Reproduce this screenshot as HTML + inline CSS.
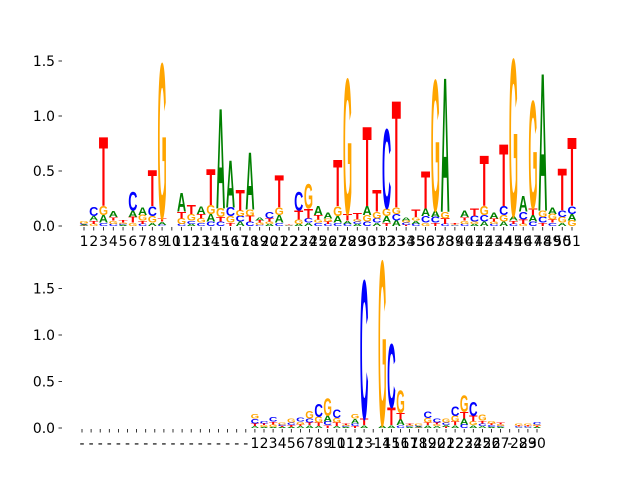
<!DOCTYPE html>
<html><head><meta charset="utf-8"><style>
html,body{margin:0;padding:0;background:#fff}
svg{display:block}
text{font-family:"DejaVu Sans","Liberation Sans",sans-serif}
</style></head><body>
<svg id="chart" width="640" height="480"></svg>
<script>
// Top logo data (heights per letter, positions 1..51)
const topA=[.01,.04,.07,.05,.01,.06,.07,.03,.03,0,.17,.02,.07,.07,.91,.43,.04,.52,.03,.02,.07,.003,.02,.03,.08,.05,.06,.03,.02,.08,.03,.06,.05,.03,.03,.07,.06,1.22,.005,.06,.02,.04,.05,.04,.04,.14,.06,1.25,.06,.03,.06];
const topC=[.01,.08,.03,.02,.01,.17,.02,.09,.01,0,.02,.03,.03,.04,.04,.08,.05,.04,.01,.06,.03,.003,.17,.04,.03,.02,.03,.02,.02,.04,.04,.72,.06,.02,.02,.06,.05,.02,.005,.02,.05,.06,.02,.08,.02,.07,.04,.05,.03,.06,.07];
const topG=[.02,.02,.08,.03,.01,.03,.05,.06,1.41,0,.05,.06,.04,.08,.08,.06,.05,.06,.02,.02,.07,.003,.04,.22,.03,.03,.09,1.23,.02,.06,.06,.07,.06,.02,.03,.03,1.19,.06,.005,.03,.02,.08,.02,.06,1.43,.02,.98,.06,.05,.05,.05];
const topT=[.005,.03,.63,.03,.02,.05,.03,.33,.03,0,.06,.08,.04,.33,.04,.03,.19,.05,.02,.03,.29,.005,.08,.09,.04,.02,.42,.06,.06,.72,.2,.03,.97,.01,.07,.34,.03,.05,.01,.03,.07,.46,.03,.56,.03,.04,.06,.03,.03,.38,.62];
const topLabels=Array.from({length:51},(_,i)=>String(i+1));
// Bottom logo data
const z19=new Array(19).fill(0);
const botA=z19.concat([.02,.01,.01,.01,.01,.02,.03,.02,.06,.02,.01,.05,.03,0,.03,.03,.06,.01,.01,.03,.02,.02,.03,.06,.03,.02,.01,.01,0,.005,.005,.01]);
const botC=z19.concat([.05,.03,.05,.02,.03,.04,.04,.14,.04,.09,.01,.03,1.49,0,0,.69,.03,.01,.01,.07,.04,.03,.1,.04,.15,.03,.02,.01,0,.01,.01,.03]);
const botG=z19.concat([.05,.02,.03,.02,.04,.03,.08,.06,.19,.05,.01,.05,0,0,1.77,0,.24,.01,.02,.05,.02,.04,.06,.18,.04,.06,.03,.02,0,.02,.02,.02]);
const botT=z19.concat([.03,.02,.03,.01,.02,.02,.03,.04,.03,.04,.01,.02,.07,0,0,.19,.07,.01,.005,.03,.02,.01,.04,.07,.06,.03,.02,.02,0,.01,.01,.01]);
const botLabels=new Array(19).fill('-').concat(['1','2','3','4','5','6','7','8','9','10','11','12','13','-','14','15','16','17','18','19','20','21','22','23','24','25','26','27','-','28','29','30']);
const yTicks=[0,0.5,1.0,1.5];

const NS='http://www.w3.org/2000/svg';
const svg=document.getElementById('chart');
const colors={A:'#008000',C:'#0000ff',G:'#ffa500',T:'#ff0000'};
function mk(tag,attrs,parent){const e=document.createElementNS(NS,tag);for(const k in attrs)e.setAttribute(k,attrs[k]);(parent||svg).appendChild(e);return e;}

function drawPanel(p){
  const g=mk('g',{});
  
  
  const xs=i=>p.x0+i*p.dx;
  const ys=v=>p.y0-v*p.ppu;
  yTicks.forEach(t=>{
    const y=ys(t);
    const tk=mk('line',{x1:p.axX-3.5,x2:p.axX,y1:y,y2:y,stroke:'#000','stroke-width':0.8},g);
    
    
    const lb=mk('text',{x:p.axX-7,y:y+5,'text-anchor':'end','font-size':13.9,fill:'#000'},g);
    lb.textContent=t.toFixed(1);
    
    
  });
  p.labels.forEach((l,i)=>{
    const x=xs(i);
    const tk=mk('line',{x1:x,x2:x,y1:p.y0+1,y2:p.y0+4.5,stroke:'#000','stroke-width':0.8},g);
    
    
    const lb=mk('text',{x:x,y:p.y0+20,'text-anchor':'middle','font-size':13.9,fill:'#000'},g);
    lb.textContent=l;
    
    
  });
  const w=p.dx*0.94;
  for(let i=0;i<p.A.length;i++){
    const col=[['A',p.A[i]],['C',p.C[i]],['G',p.G[i]],['T',p.T[i]]].filter(d=>d[1]>0).sort((a,b)=>a[1]-b[1]);
    let base=0;
    col.forEach(([L,h])=>{
      const yb=ys(base), hp=h*p.ppu;
      const t=mk('text',{x:0,y:0,'font-size':100,'font-weight':'bold',fill:colors[L],textLength:70,lengthAdjust:'spacingAndGlyphs',
        style:'font-family:"Liberation Sans",sans-serif',
        transform:`translate(${xs(i)-w/2},${yb}) scale(${w/70},${hp/69.5})`},g);
      t.textContent=L;
      
      
      base+=h;
    });
  }
}
drawPanel({name:'top-logo',x0:84,dx:9.76,y0:226,ppu:110,axX:62,labels:topLabels,A:topA,C:topC,G:topG,T:topT});
drawPanel({name:'bottom-logo',x0:82,dx:9.1,y0:428,ppu:93,axX:62,labels:botLabels,A:botA,C:botC,G:botG,T:botT});
</script>
</body></html>
